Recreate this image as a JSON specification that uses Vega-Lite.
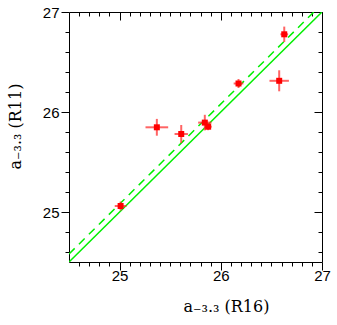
{
  "$schema": "https://vega.github.io/schema/vega-lite/v6.json",
  "autosize": {"type": "none"},
  "padding": {"left": 69, "top": 12, "right": 15, "bottom": 63},
  "width": 253,
  "height": 250,
  "config": {
    "view": {"stroke": "black", "strokeWidth": 1},
    "axis": {"grid": false, "domain": false, "tickColor": "black", "labelColor": "black", "titleColor": "black"}
  },
  "datasets": {
    "pts": [
      {"x": 25.01, "y": 25.06, "xlo": 24.952, "xhi": 25.068, "ylo": 25.015, "yhi": 25.105},
      {"x": 25.368, "y": 25.847, "xlo": 25.256, "xhi": 25.48, "ylo": 25.763, "yhi": 25.931},
      {"x": 25.609, "y": 25.78, "xlo": 25.543, "xhi": 25.675, "ylo": 25.69, "yhi": 25.87},
      {"x": 25.842, "y": 25.894, "xlo": 25.776, "xhi": 25.908, "ylo": 25.816, "yhi": 25.972},
      {"x": 25.875, "y": 25.853, "xlo": 25.84, "xhi": 25.91, "ylo": 25.818, "yhi": 25.888},
      {"x": 26.175, "y": 26.285, "xlo": 26.127, "xhi": 26.223, "ylo": 26.24, "yhi": 26.33},
      {"x": 26.627, "y": 26.777, "xlo": 26.589, "xhi": 26.665, "ylo": 26.7, "yhi": 26.854},
      {"x": 26.577, "y": 26.312, "xlo": 26.481, "xhi": 26.673, "ylo": 26.207, "yhi": 26.417}
    ]
  },
  "resolve": {"axis": {"x": "independent", "y": "independent"}},
  "layer": [
    {
      "data": {"values": [{"x": 24.5, "y": 24.5}, {"x": 27, "y": 27}]},
      "mark": {"type": "line", "color": "#00ee00", "strokeWidth": 1.5, "clip": true},
      "encoding": {
        "x": {"field": "x", "type": "quantitative", "scale": {"domain": [24.5, 27], "nice": false, "zero": false},
          "axis": {"orient": "bottom", "values": [25, 26, 27], "ticks": false, "labelPadding": 6, "labelFont": "Liberation Sans", "labelFontSize": 15, "labelFlush": false,
            "title": "a₋₃.₃ (R16)", "titleFont": "DejaVu Serif", "titleFontSize": 16, "titleFontWeight": "normal", "titleX": 157, "titleY": 44, "titleBaseline": "middle", "titleAnchor": "middle"}},
        "y": {"field": "y", "type": "quantitative", "scale": {"domain": [24.5, 27], "nice": false, "zero": false},
          "axis": {"orient": "left", "values": [25, 26, 27], "ticks": false, "labelPadding": 10, "labelFont": "Liberation Sans", "labelFontSize": 15, "labelFlush": false,
            "title": "a₋₃.₃ (R11)", "titleFont": "DejaVu Serif", "titleFontSize": 16, "titleFontWeight": "normal", "titleX": -54, "titleY": 114, "titleBaseline": "middle", "titleAnchor": "middle"}}
      }
    },
    {
      "data": {"values": [{"x": 24.5, "y": 24.58}, {"x": 26.92, "y": 27}]},
      "mark": {"type": "line", "color": "#00ee00", "strokeWidth": 1.5, "strokeDash": [8, 6], "clip": true},
      "encoding": {
        "x": {"field": "x", "type": "quantitative", "axis": {"orient": "bottom", "values": [25, 26, 27], "tickSize": 8, "labels": false, "title": null, "encode": {"ticks": {"update": {"y2": {"value": -8}}}}}},
        "y": {"field": "y", "type": "quantitative", "axis": {"orient": "left", "values": [25, 26, 27], "tickSize": 8, "labels": false, "title": null, "encode": {"ticks": {"update": {"x2": {"value": 8}}}}}}
      }
    },
    {
      "data": {"name": "pts"},
      "mark": {"type": "rule", "color": "#ff3030", "strokeWidth": 2, "opacity": 0.75},
      "encoding": {
        "x": {"field": "xlo", "type": "quantitative", "axis": {"orient": "bottom", "values": [24.6, 24.7, 24.8, 24.9, 25.1, 25.2, 25.3, 25.4, 25.5, 25.6, 25.7, 25.8, 25.9, 26.1, 26.2, 26.3, 26.4, 26.5, 26.6, 26.7, 26.8, 26.9], "tickSize": 4, "labels": false, "title": null, "encode": {"ticks": {"update": {"y2": {"value": -4}}}}}},
        "x2": {"field": "xhi"},
        "y": {"field": "y", "type": "quantitative", "axis": {"orient": "left", "values": [24.6, 24.8, 25.2, 25.4, 25.6, 25.8, 26.2, 26.4, 26.6, 26.8], "tickSize": 4, "labels": false, "title": null, "encode": {"ticks": {"update": {"x2": {"value": 4}}}}}}
      }
    },
    {
      "data": {"name": "pts"},
      "mark": {"type": "rule", "color": "#ff3030", "strokeWidth": 2, "opacity": 0.75},
      "encoding": {
        "x": {"field": "x", "type": "quantitative", "axis": {"orient": "bottom", "offset": -250, "values": [25, 26, 27], "tickSize": 8, "labels": false, "title": null}},
        "y": {"field": "ylo", "type": "quantitative", "axis": {"orient": "left", "offset": -253, "values": [25, 26, 27], "tickSize": 8, "labels": false, "title": null}},
        "y2": {"field": "yhi"}
      }
    },
    {
      "data": {"name": "pts"},
      "mark": {"type": "square", "color": "#ff0000", "opacity": 1, "size": 36},
      "encoding": {
        "x": {"field": "x", "type": "quantitative", "axis": {"orient": "bottom", "offset": -250, "values": [24.6, 24.7, 24.8, 24.9, 25.1, 25.2, 25.3, 25.4, 25.5, 25.6, 25.7, 25.8, 25.9, 26.1, 26.2, 26.3, 26.4, 26.5, 26.6, 26.7, 26.8, 26.9], "tickSize": 4, "labels": false, "title": null}},
        "y": {"field": "y", "type": "quantitative", "axis": {"orient": "left", "offset": -253, "values": [24.6, 24.8, 25.2, 25.4, 25.6, 25.8, 26.2, 26.4, 26.6, 26.8], "tickSize": 4, "labels": false, "title": null}}
      }
    }
  ]
}
